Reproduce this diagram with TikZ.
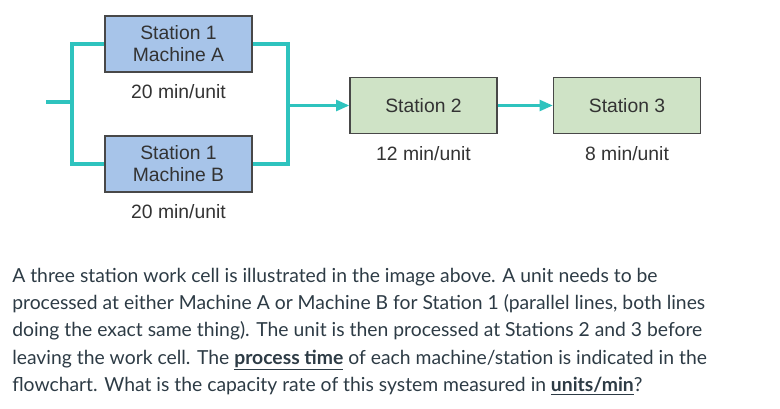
\documentclass[tikz,border=0pt]{standalone}
\usepackage{fontspec}
\setmainfont{Liberation Sans}
\newfontfamily\bodyfont{Lato}
\usetikzlibrary{arrows.meta,positioning}
\definecolor{machblue}{RGB}{167,196,233}
\definecolor{stagegreen}{RGB}{207,227,198}
\definecolor{flowteal}{RGB}{46,195,190}
\definecolor{edgegray}{RGB}{72,72,72}
\definecolor{bodytext}{RGB}{45,59,69}
\tikzset{
  line/.style={flowteal,line width=2.4pt},
  flow/.style={line,-{Triangle[length=10pt,width=8pt]}},
  station/.style={draw=edgegray,line width=0.8pt,fill=machblue,
                  minimum width=110.25pt,minimum height=42pt,inner sep=2pt,
                  align=center,font=\fontsize{14.5}{16.5}\selectfont,text=black!80},
  laterstation/.style={station,fill=stagegreen},
  rate/.style={font=\fontsize{14.5}{16.5}\selectfont,text=black!80},
  question/.style={font=\bodyfont\fontsize{14.5}{20.4}\selectfont,text=bodytext,
                   align=left,anchor=north west,inner sep=0pt},
}

\begin{document}
\begin{tikzpicture}[x=0.75pt,y=-0.75pt]
  \useasboundingbox (0,0) rectangle (780,409);

  % station 1, two parallel machines
  \node[station] (machA) at (178.5,44) {Station 1\\Machine A};
  \node[rate] (rateA) at (178.5,92) {20 min/unit};
  \node[station] (machB) at (178.5,164) {Station 1\\Machine B};
  \node[rate] (rateB) at (178.5,212) {20 min/unit};

  % stations 2 and 3
  \node[laterstation] (st2) at (423.5,105.5) {Station 2};
  \node[rate] (rate2) at (423.5,154) {12 min/unit};
  \node[laterstation] (st3) at (627,105.5) {Station 3};
  \node[rate] (rate3) at (627,154) {8 min/unit};

  \coordinate (feed) at (46,102);
  \coordinate (split) at (72,102);
  \coordinate (merge) at (288,105.5);

  \draw[line] (feed) -- (split);
  \draw[line] (machA.west) -| (split) |- (machB.west);
  \draw[line] (machA.east) -| (merge) |- (machB.east);
  \draw[flow] (merge) -- (st2.west);
  \draw[flow] (st2.east) -- (st3.west);

  \node[question] (text) at (12,268)
    {A three station work cell is illustrated in the image above. A unit needs to be\\
     processed at either Machine A or Machine B for Station 1 (parallel lines, both lines\\
     doing the exact same thing). The unit is then processed at Stations 2 and 3 before\\
     leaving the work cell. The \underline{\textbf{process time}} of each machine/station is indicated in the\\
     flowchart. What is the capacity rate of this system measured in \underline{\textbf{units/min}}?};
\end{tikzpicture}
\end{document}
